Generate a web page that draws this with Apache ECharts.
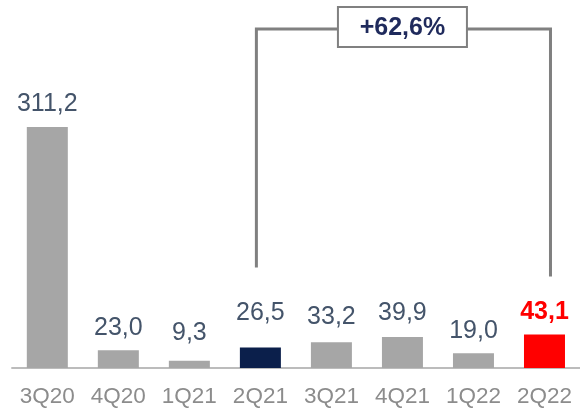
<!DOCTYPE html>
<html>
<head>
<meta charset="utf-8">
<script src="https://cdn.jsdelivr.net/npm/echarts@6/dist/echarts.min.js"></script>
<style>html,body{margin:0;padding:0;background:#fff;}#c{width:580px;height:410px;}</style>
</head>
<body>
<div id="c"></div>
<script>
var categories = ['3Q20', '4Q20', '1Q21', '2Q21', '3Q21', '4Q21', '1Q22', '2Q22'];
var values = [311.2, 23.0, 9.3, 26.5, 33.2, 39.9, 19.0, 43.1];
var growthLabel = '+62,6%';
var growthFrom = 3, growthTo = 7;

// extra upward shift (px) of individual value labels, as in the original layout
var labelLift = [0, 0, 5, 12, 3, 1, 0, 0];

var GRAY = '#A6A6A6', NAVY = '#0B1F4B', RED = '#FF0000';
function fmt(v) { return v.toFixed(1).replace('.', ','); }

var chart = echarts.init(document.getElementById('c'), null, {renderer: 'canvas'});
var data = values.map(function (v, i) {
  var color = i === growthFrom ? NAVY : (i === growthTo ? RED : GRAY);
  var item = { value: v, itemStyle: { color: color }, label: { offset: [0, -labelLift[i]] } };
  if (i === growthTo) { item.label.color = RED; item.label.fontWeight = 'bold'; }
  return item;
});

chart.setOption({
  animation: false,
  grid: { left: 11.8, right: -2.7, top: 58.2, bottom: 42 },
  xAxis: {
    type: 'category', data: categories,
    axisLine: { lineStyle: { color: '#A6A6A6', width: 1.5 } },
    axisTick: { show: false },
    axisLabel: { interval: 0, hideOverlap: false, color: '#8C8C8C', fontSize: 22.5, fontFamily: 'Liberation Sans, Arial', margin: 17 }
  },
  yAxis: { type: 'value', min: 0, max: 400, show: false, splitLine: { show: false } },
  series: [{
    type: 'bar', data: data, barWidth: 41,
    label: {
      show: true, position: 'top', distance: 10,
      color: '#44546A', fontSize: 25, fontFamily: 'Liberation Sans, Arial',
      formatter: function (p) { return fmt(p.value); }
    }
  }]
});

var xL = chart.convertToPixel({ xAxisIndex: 0 }, growthFrom) - 4;
var xR = chart.convertToPixel({ xAxisIndex: 0 }, growthTo) + 6;
var yLb = chart.convertToPixel({ yAxisIndex: 0 }, values[growthFrom]) - 80;
var yRb = chart.convertToPixel({ yAxisIndex: 0 }, values[growthTo]) - 58;
var yTop = 29;
var boxW = 129, boxH = 40;
var cx = (xL + xR) / 2 - 1;
var lineStyle = { stroke: '#808080', lineWidth: 3 };
chart.setOption({
  graphic: [
    { type: 'polyline', shape: { points: [[xL, yLb], [xL, yTop], [xR, yTop], [xR, yRb]] }, style: lineStyle, z: 10 },
    { type: 'rect', shape: { x: cx - boxW / 2, y: yTop - 22, width: boxW, height: boxH }, style: { fill: '#fff', stroke: '#808080', lineWidth: 2 }, z: 11 },
    { type: 'text', x: cx, y: yTop - 1, style: { text: growthLabel, fill: '#1F2A5C', font: 'bold 25px "Liberation Sans", Arial', textAlign: 'center', textVerticalAlign: 'middle' }, z: 12 }
  ]
});
</script>
</body>
</html>
